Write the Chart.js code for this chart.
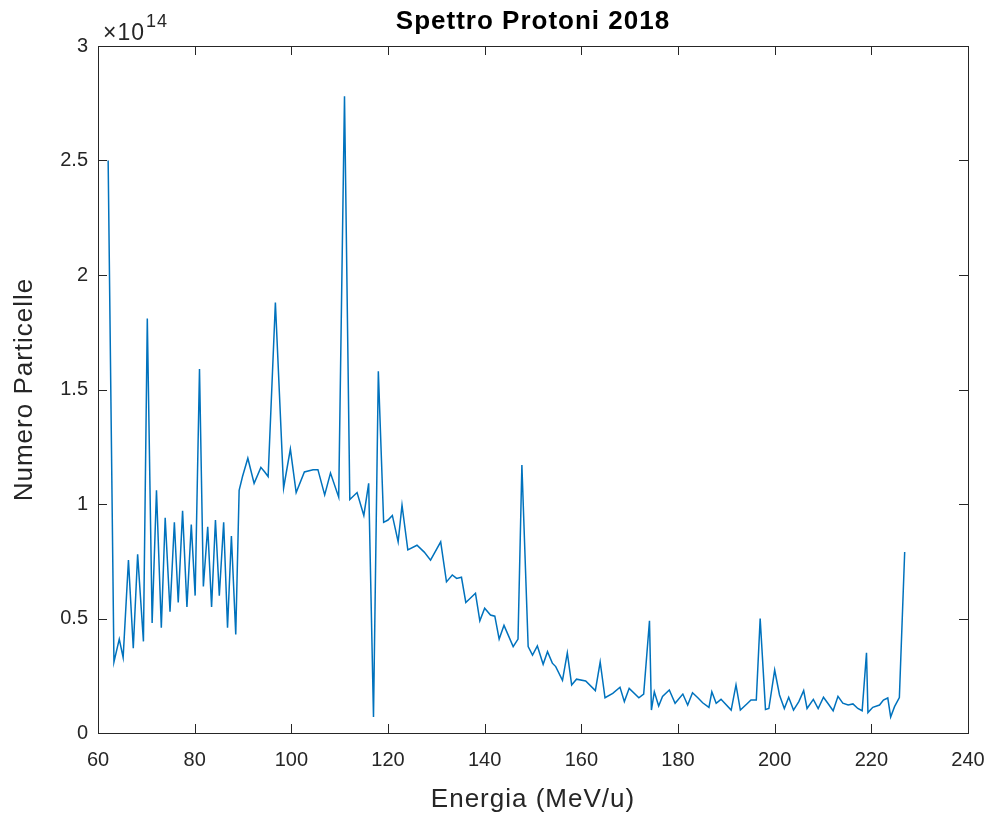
<!DOCTYPE html>
<html>
<head>
<meta charset="utf-8">
<script src="https://cdn.jsdelivr.net/npm/chart.js@4"></script>
<style>
  html, body { margin: 0; padding: 0; background: #fff; }
  #wrap { width: 990px; height: 819px; }
</style>
</head>
<body>
<div id="wrap"><canvas id="spettro" width="990" height="819"></canvas></div>
<script>
// energie (MeV/u)
const energia = [
  62.1, 63.3, 64.4, 65.2, 66.3, 67.3, 68.2, 69.4, 70.2, 71.2,
  72.1, 73.1, 73.9, 74.9, 75.8, 76.6, 77.5, 78.4, 79.3, 80.1,
  81.0, 81.8, 82.7, 83.5, 84.3, 85.1, 86.0, 86.8, 87.6, 88.5,
  89.2, 89.9, 91.0, 92.3, 93.7, 94.5, 95.2, 96.7, 98.4, 99.8,
  101.0, 102.7, 104.5, 105.5, 106.9, 108.1, 109.8, 111.0, 112.1, 113.6,
  115.0, 116.0, 117.0, 118.0, 119.1, 120.0, 120.9, 122.1, 122.9, 124.1,
  126.0, 127.5, 128.8, 130.9, 132.1, 133.3, 134.2, 135.2, 136.1, 138.1,
  139.0, 140.0, 141.2, 142.1, 143.0, 144.0, 145.9, 146.9, 147.7, 149.0,
  149.9, 150.9, 152.1, 153.0, 154.0, 154.7, 156.1, 157.1, 158.0, 159.0,
  160.9, 162.9, 163.9, 164.9, 166.5, 168.0, 168.9, 169.9, 171.9, 172.9,
  174.1, 174.5, 175.1, 176.0, 176.8, 178.2, 179.4, 181.0, 182.0, 183.0,
  184.1, 185.1, 186.4, 187.0, 187.9, 188.9, 191.0, 192.0, 192.9, 194.4,
  195.1, 196.2, 197.0, 198.1, 198.8, 200.0, 201.0, 202.0, 202.9, 203.9,
  205.0, 206.0, 206.7, 208.0, 209.0, 210.1, 211.0, 212.1, 213.1, 214.1,
  215.2, 216.2, 217.2, 218.1, 219.0, 219.3, 220.3, 221.7, 222.5, 223.4,
  224.0, 224.8, 225.8, 226.9
];

// numero di particelle
const particelle = [
  2.50e14, 0.31e14, 0.41e14, 0.33e14, 0.755e14, 0.37e14, 0.78e14, 0.40e14, 1.81e14, 0.48e14,
  1.06e14, 0.46e14, 0.94e14, 0.53e14, 0.92e14, 0.57e14, 0.97e14, 0.55e14, 0.91e14, 0.60e14,
  1.59e14, 0.64e14, 0.90e14, 0.55e14, 0.93e14, 0.60e14, 0.92e14, 0.46e14, 0.86e14, 0.43e14,
  1.06e14, 1.12e14, 1.20e14, 1.09e14, 1.16e14, 1.14e14, 1.12e14, 1.88e14, 1.07e14, 1.24e14,
  1.05e14, 1.14e14, 1.15e14, 1.15e14, 1.04e14, 1.135e14, 1.03e14, 2.78e14, 1.02e14, 1.05e14,
  0.95e14, 1.09e14, 0.07e14, 1.58e14, 0.92e14, 0.93e14, 0.95e14, 0.835e14, 0.995e14, 0.80e14,
  0.82e14, 0.79e14, 0.755e14, 0.835e14, 0.66e14, 0.69e14, 0.675e14, 0.68e14, 0.57e14, 0.61e14,
  0.49e14, 0.545e14, 0.515e14, 0.51e14, 0.41e14, 0.47e14, 0.377e14, 0.41e14, 1.17e14, 0.377e14,
  0.34e14, 0.38e14, 0.30e14, 0.355e14, 0.305e14, 0.29e14, 0.23e14, 0.35e14, 0.21e14, 0.235e14,
  0.227e14, 0.185e14, 0.31e14, 0.154e14, 0.173e14, 0.20e14, 0.137e14, 0.195e14, 0.154e14, 0.17e14,
  0.49e14, 0.10e14, 0.18e14, 0.118e14, 0.16e14, 0.188e14, 0.13e14, 0.17e14, 0.122e14, 0.176e14,
  0.154e14, 0.132e14, 0.112e14, 0.18e14, 0.13e14, 0.147e14, 0.10e14, 0.21e14, 0.10e14, 0.13e14,
  0.144e14, 0.144e14, 0.50e14, 0.103e14, 0.107e14, 0.275e14, 0.166e14, 0.107e14, 0.156e14, 0.10e14,
  0.137e14, 0.185e14, 0.107e14, 0.147e14, 0.107e14, 0.156e14, 0.13e14, 0.097e14, 0.16e14, 0.13e14,
  0.122e14, 0.127e14, 0.107e14, 0.097e14, 0.35e14, 0.089e14, 0.112e14, 0.122e14, 0.144e14, 0.153e14,
  0.07e14, 0.115e14, 0.155e14, 0.79e14
];

const xTicks = [60, 80, 100, 120, 140, 160, 180, 200, 220, 240];
const yTicks = [0, 0.5e14, 1e14, 1.5e14, 2e14, 2.5e14, 3e14];

const FONT = "'Liberation Sans', Arial, Helvetica, sans-serif";
const INK = "#262626";

// box, tacche interne e testi in stile MATLAB
const matlabAxes = {
  id: "matlabAxes",
  afterDraw(chart) {
    const { ctx, chartArea: a, scales } = chart;
    const x = scales.x, y = scales.y;
    ctx.save();
    ctx.strokeStyle = INK;
    ctx.lineWidth = 1;
    ctx.strokeRect(a.left + 0.5, a.top + 0.5, a.right - a.left, a.bottom - a.top);

    ctx.beginPath();
    xTicks.forEach(v => {
      const px = Math.round(x.getPixelForValue(v)) + 0.5;
      ctx.moveTo(px, a.bottom); ctx.lineTo(px, a.bottom - 9);
      ctx.moveTo(px, a.top); ctx.lineTo(px, a.top + 9);
    });
    yTicks.forEach(v => {
      const py = Math.round(y.getPixelForValue(v)) + 0.5;
      ctx.moveTo(a.left, py); ctx.lineTo(a.left + 9, py);
      ctx.moveTo(a.right, py); ctx.lineTo(a.right - 9, py);
    });
    ctx.stroke();

    const cx = (a.left + a.right) / 2;
    ctx.fillStyle = "#000";
    ctx.textAlign = "center";
    ctx.textBaseline = "middle";
    ctx.letterSpacing = "1px";
    ctx.font = "bold 26px " + FONT;
    ctx.fillText("Spettro Protoni 2018", cx, 22);

    ctx.fillStyle = INK;
    ctx.font = "26px " + FONT;
    ctx.fillText("Energia (MeV/u)", cx, 800);

    ctx.save();
    ctx.translate(25, (a.top + a.bottom) / 2);
    ctx.rotate(-Math.PI / 2);
    ctx.fillText("Numero Particelle", 0, 0);
    ctx.restore();

    // fattore di scala
    ctx.textAlign = "left";
    ctx.textBaseline = "alphabetic";
    ctx.font = "23px " + FONT;
    ctx.fillText("\u00d710", a.left + 5, 40);
    const w = ctx.measureText("\u00d710").width;
    ctx.font = "18px " + FONT;
    ctx.fillText("14", a.left + 6 + w, 27);
    ctx.restore();
  }
};

new Chart(document.getElementById("spettro"), {
  type: "line",
  data: {
    datasets: [{
      label: "Spettro Protoni 2018",
      data: energia.map((e, i) => ({ x: e, y: particelle[i] })),
      borderColor: "#0072BD",
      borderWidth: 1.5,
      pointRadius: 0,
      tension: 0,
      fill: false
    }]
  },
  options: {
    responsive: false,
    animation: false,
    layout: { padding: { top: 46, right: 22, left: 0, bottom: 0 } },
    plugins: {
      legend: { display: false },
      tooltip: { enabled: false },
      title: { display: false }
    },
    scales: {
      x: {
        type: "linear",
        min: 60, max: 240,
        afterFit(scale) { scale.height = 86; scale.paddingLeft = 0; scale.paddingRight = 0; },
        afterBuildTicks(scale) { scale.ticks = xTicks.map(v => ({ value: v })); },
        grid: { display: false, drawTicks: false },
        border: { display: false },
        ticks: { color: INK, font: { family: FONT, size: 20 }, padding: 15, maxRotation: 0 }
      },
      y: {
        type: "linear",
        min: 0, max: 3e14,
        afterFit(scale) { scale.width = 98; scale.paddingTop = 0; scale.paddingBottom = 0; },
        afterBuildTicks(scale) { scale.ticks = yTicks.map(v => ({ value: v })); },
        grid: { display: false, drawTicks: false },
        border: { display: false },
        ticks: {
          color: INK, font: { family: FONT, size: 20 }, padding: 10,
          callback: v => String(+(v / 1e14).toFixed(1))
        }
      }
    }
  },
  plugins: [matlabAxes]
});
</script>
</body>
</html>
